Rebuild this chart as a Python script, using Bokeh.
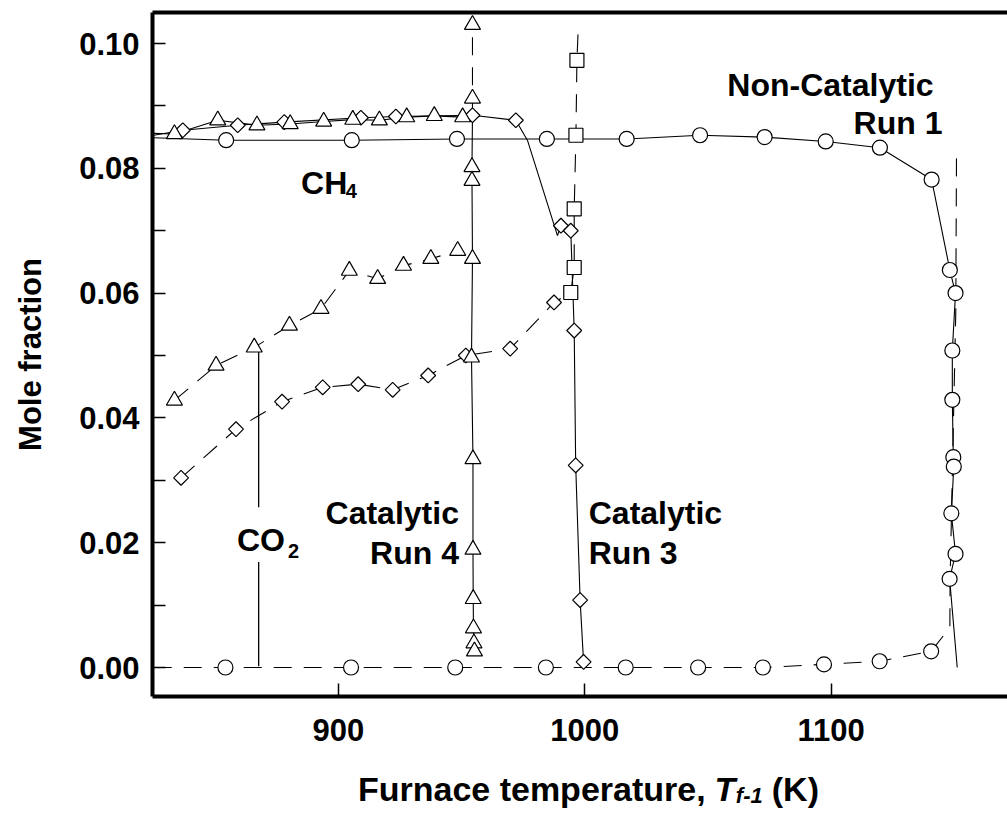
import math
from bokeh.plotting import figure
from bokeh.layouts import column
from bokeh.models import FixedTicker, Label, LinearAxis, Range1d
from bokeh.embed import file_html
from bokeh.resources import INLINE

# ---------------- data ----------------
# Non-Catalytic Run 1, CH4 (circles, solid line)
r1_ch4_T = [825.0, 854.4, 905.4, 948.1, 984.6, 1017.0, 1046.8, 1073.0, 1097.8, 1119.8,
            1140.8, 1148.2, 1150.5, 1149.2, 1149.2, 1149.6, 1149.8, 1148.8, 1150.5, 1148.1, 1151.2]
r1_ch4_v = [0.0849, 0.0845, 0.0845, 0.0847, 0.0847, 0.0847, 0.0853, 0.0850, 0.0843, 0.0833,
            0.0782, 0.0637, 0.0600, 0.0508, 0.0429, 0.0337, 0.0322, 0.0247, 0.0182, 0.0142, 0.0]
r1_ch4_mark = [False] + [True] * 19 + [False]

# Non-Catalytic Run 1, CO2 (circles, dashed line)
r1_co2_T = [825.0, 854.1, 905.1, 947.4, 984.2, 1016.6, 1046.0, 1072.3, 1097.1, 1119.7, 1140.6,
            1148.2, 1148.3, 1150.6, 1150.9]
r1_co2_v = [0.0, 0.0, 0.0, 0.0, 0.0, 0.0, 0.0, 0.0, 0.0005, 0.0010, 0.0026,
            0.0064, 0.0140, 0.0570, 0.0823]
r1_co2_mark = [False] + [True] * 10 + [False] * 4

# Catalytic Run 4, CH4 (triangles, solid line)
r4_ch4_T = [825.0, 833.4, 851.0, 866.9, 880.4, 894.0, 905.8, 916.6, 927.7, 938.9, 950.4, 954.4,
            954.2, 954.2, 954.4, 954.0, 954.6, 954.6, 954.7, 954.8, 955.0, 955.2]
r4_ch4_v = [0.0856, 0.0855, 0.0877, 0.0869, 0.0871, 0.0875, 0.0878, 0.0877, 0.0882, 0.0884, 0.0882, 0.0885,
            0.0802, 0.0780, 0.0655, 0.0497, 0.0334, 0.0189, 0.0110, 0.0063, 0.0039, 0.0026]
r4_ch4_mark = [False] + [True] * 10 + [False] + [True] * 10

# Catalytic Run 4, CO2 (triangles, dashed line)
r4_co2_T = [833.4, 850.3, 865.8, 880.1, 892.9, 904.4, 915.9, 926.4, 937.5, 948.4]
r4_co2_v = [0.0428, 0.0484, 0.0513, 0.0548, 0.0575, 0.0636, 0.0623, 0.0644, 0.0655, 0.0668]
# Run 4, CO2 spike at ignition (triangles, dashed)
r4_spk_T = [954.4, 954.4, 954.4]
r4_spk_v = [0.0885, 0.0912, 0.1030]
r4_spk_mark = [False, True, True]

# Catalytic Run 3, CH4 (diamonds, solid line)
r3_ch4_T = [825.0, 836.8, 859.1, 878.0, 909.1, 923.3, 954.4, 972.0, 976.8, 988.9,
            990.3, 994.3, 995.7, 996.3, 998.1, 999.5]
r3_ch4_v = [0.0853, 0.0861, 0.0869, 0.0874, 0.0881, 0.0883, 0.0885, 0.0877, 0.0844, 0.0692,
            0.0708, 0.0700, 0.0540, 0.0324, 0.0108, 0.0009]
r3_ch4_mark = [False, True, True, True, True, True, True, True, False, False,
               True, True, True, True, True, True]

# Catalytic Run 3, CO2 (diamonds then squares, dashed line)
r3_co2_T = [836.1, 858.4, 877.1, 893.6, 908.0, 922.0, 936.4, 951.7, 969.7, 987.5]
r3_co2_v = [0.0304, 0.0382, 0.0426, 0.0449, 0.0454, 0.0445, 0.0468, 0.0500, 0.0511, 0.0585]
r3_sq_T = [994.3, 995.7, 995.7, 996.4, 996.8, 997.3]
r3_sq_v = [0.0601, 0.0641, 0.0735, 0.0853, 0.0973, 0.1021]
r3_sq_mark = [True, True, True, True, True, False]

# CO2 pointer line (annotation)
co2_ptr_T = [867.6, 867.6]
co2_ptr_v1 = [0.0513, 0.0257]
co2_ptr_v2 = [0.0169, 0.0002]

x_ticks = [900, 1000, 1100]
x_tick_labels = ["900", "1000", "1100"]
y_ticks = [0.0, 0.02, 0.04, 0.06, 0.08, 0.10]
y_tick_labels = ["0.00", "0.02", "0.04", "0.06", "0.08", "0.10"]
y_minor = [0.01, 0.03, 0.05, 0.07, 0.09]

# ---------------- figure ----------------
FONT = "Liberation Sans"
W = 1007
p = figure(width=W, height=755,
           x_range=Range1d(824.5, 1171.6), y_range=Range1d(-0.004647, 0.104968),
           output_backend="svg", toolbar_location=None,
           min_border_left=152, min_border_right=0, min_border_top=12, min_border_bottom=59)
p.outline_line_color = None
p.xgrid.grid_line_color = None
p.ygrid.grid_line_color = None

for ax in (p.xaxis[0], p.yaxis[0]):
    ax.axis_line_width = 4
    ax.axis_line_color = "black"
    ax.major_tick_in = 13
    ax.major_tick_out = 0
    ax.minor_tick_in = 13
    ax.minor_tick_out = 0
    ax.major_tick_line_width = 1.5
    ax.minor_tick_line_width = 1.5
    ax.major_label_text_font = FONT
    ax.major_label_text_font_style = "bold"
    ax.major_label_text_font_size = "31px"
    ax.major_label_text_color = "black"

p.xaxis.ticker = FixedTicker(ticks=x_ticks, minor_ticks=[])
p.xaxis.major_label_overrides = {t: s for t, s in zip(x_ticks, x_tick_labels)}
p.xaxis.major_label_standoff = 22
p.yaxis.ticker = FixedTicker(ticks=y_ticks, minor_ticks=y_minor)
p.yaxis.major_label_overrides = {t: s for t, s in zip(y_ticks, y_tick_labels)}
p.yaxis.major_label_standoff = 13
p.yaxis.axis_label = "Mole fraction"
p.yaxis.axis_label_text_font = FONT
p.yaxis.axis_label_text_font_style = "bold"
p.yaxis.axis_label_text_font_size = "31px"
p.yaxis.axis_label_text_color = "black"
p.yaxis.axis_label_standoff = 28

top = LinearAxis(ticker=FixedTicker(ticks=[], minor_ticks=[]), axis_line_width=4,
                 major_tick_in=0, major_tick_out=0, minor_tick_in=0, minor_tick_out=0,
                 major_label_text_font_size="0px")
p.add_layout(top, "above")

def pick(a, m):
    return [x for x, k in zip(a, m) if k]

DASH = "18 12"
LW = 1.1
# lines
p.line(r1_ch4_T, r1_ch4_v, line_color="black", line_width=LW)
p.line(r1_co2_T, r1_co2_v, line_color="black", line_width=LW, line_dash=DASH)
p.line(r4_ch4_T, r4_ch4_v, line_color="black", line_width=LW)
p.line(r4_co2_T, r4_co2_v, line_color="black", line_width=LW, line_dash=DASH)
p.line(r4_spk_T, r4_spk_v, line_color="black", line_width=LW, line_dash=DASH)
p.line(r3_ch4_T, r3_ch4_v, line_color="black", line_width=LW)
p.line(r3_co2_T + r3_sq_T, r3_co2_v + r3_sq_v, line_color="black", line_width=LW, line_dash=DASH)
p.line(co2_ptr_T, co2_ptr_v1, line_color="black", line_width=1.3)
p.line(co2_ptr_T, co2_ptr_v2, line_color="black", line_width=1.3)

MK = dict(fill_color="white", line_color="black", line_width=1.2)
# markers
p.scatter(pick(r1_ch4_T, r1_ch4_mark), pick(r1_ch4_v, r1_ch4_mark), marker="circle", size=15, **MK)
p.scatter(pick(r1_co2_T, r1_co2_mark), pick(r1_co2_v, r1_co2_mark), marker="circle", size=15, **MK)
p.scatter(r4_co2_T, r4_co2_v, marker="triangle", size=16, **MK)
p.scatter(pick(r4_spk_T, r4_spk_mark), pick(r4_spk_v, r4_spk_mark), marker="triangle", size=16, **MK)
p.scatter(r3_co2_T, r3_co2_v, marker="square", angle=math.pi / 4, size=10.5, **MK)
p.scatter(pick(r3_sq_T, r3_sq_mark), pick(r3_sq_v, r3_sq_mark), marker="square", size=14, **MK)
p.scatter(pick(r3_ch4_T, r3_ch4_mark), pick(r3_ch4_v, r3_ch4_mark), marker="square", angle=math.pi / 4, size=10.5, **MK)
p.scatter(pick(r4_ch4_T, r4_ch4_mark), pick(r4_ch4_v, r4_ch4_mark), marker="triangle", size=16, **MK)

def lab(fig, x, y, text, size="32px", align="left", style="bold", baseline="alphabetic"):
    fig.add_layout(Label(x=x, y=y, text=text, text_font=FONT, text_font_style=style,
                         text_font_size=size, text_align=align, text_baseline=baseline,
                         text_color="black"))

# annotations inside the plot
lab(p, 884.8, 0.0777, "CH")
lab(p, 903.0, 0.0764, "4", size="20px")
lab(p, 858.8, 0.0204, "CO")
lab(p, 879.5, 0.0186, "2", size="20px")
lab(p, 1141.6, 0.0933, "Non-Catalytic", align="right")
lab(p, 1145.2, 0.0872, "Run 1", align="right")
lab(p, 948.9, 0.0247, "Catalytic", align="right")
lab(p, 948.9, 0.0184, "Run 4", align="right")
lab(p, 1001.6, 0.0247, "Catalytic")
lab(p, 1001.6, 0.0184, "Run 3")

# x-axis title strip (shares the x scale; y measured in pixels from its top)
p2 = figure(width=W, height=58, x_range=p.x_range, y_range=Range1d(58, 0),
            output_backend="svg", toolbar_location=None,
            x_axis_location=None, y_axis_location=None,
            min_border_left=152, min_border_right=0, min_border_top=0, min_border_bottom=0)
p2.outline_line_color = None
p2.xgrid.grid_line_color = None
p2.ygrid.grid_line_color = None
lab(p2, 907.9, 33, "Furnace temperature,", size="34px")
lab(p2, 1052.7, 33, "T", size="34px", style="bold italic")
lab(p2, 1061.3, 40, "f-1", size="22px", style="bold italic")
lab(p2, 1075.9, 33, "(K)", size="34px")

layout = column(p, p2, spacing=0)
open("out.html", "w").write(file_html(layout, INLINE))
